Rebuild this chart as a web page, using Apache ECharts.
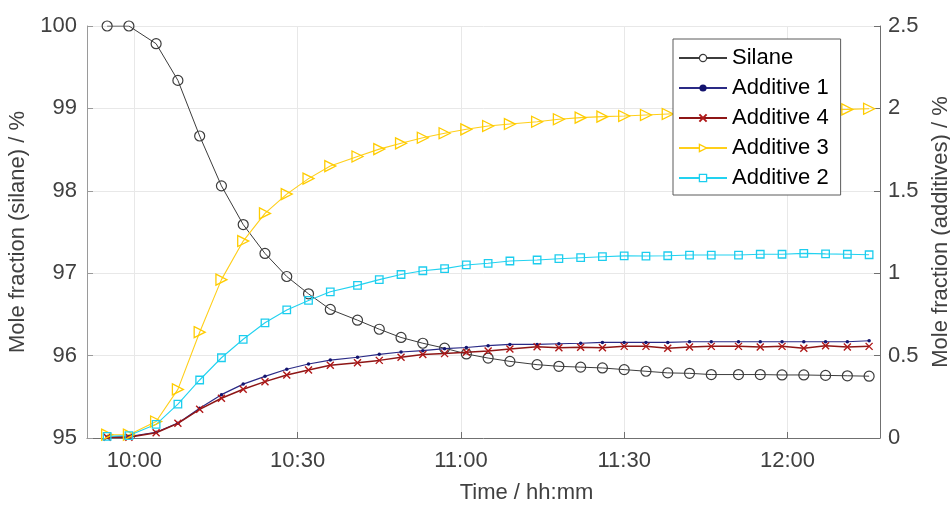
<!DOCTYPE html>
<html>
<head>
<meta charset="utf-8">
<script src="https://cdn.jsdelivr.net/npm/echarts@6/dist/echarts.min.js"></script>
<style>
html,body{margin:0;padding:0;background:#fff;}
#chart{width:950px;height:505px;}
</style>
</head>
<body>
<div id="chart"></div>
<script>
// minutes relative to 10:00
var times = [-5,-1,4,8,12,16,20,24,28,32,36,41,45,49,53,57,61,65,69,74,78,82,86,90,94,98,102,106,111,115,119,123,127,131,135];
var xTickValues = [0,30,60,90,120];
var seriesNames = ['Silane','Additive 1','Additive 4','Additive 3','Additive 2'];

var silane = [100,100,99.785,99.34,98.665,98.06,97.59,97.24,96.96,96.75,96.56,96.43,96.32,96.22,96.15,96.09,96.02,95.97,95.93,95.89,95.87,95.86,95.85,95.83,95.81,95.79,95.785,95.77,95.77,95.77,95.765,95.765,95.76,95.755,95.75];
var additive1 = [0.006,0.008,0.035,0.09,0.18,0.263,0.327,0.374,0.417,0.449,0.473,0.49,0.508,0.522,0.53,0.542,0.549,0.56,0.568,0.568,0.572,0.575,0.58,0.58,0.58,0.58,0.584,0.584,0.584,0.584,0.584,0.584,0.584,0.584,0.59];
var additive4 = [0.004,0.005,0.032,0.089,0.174,0.241,0.296,0.342,0.382,0.413,0.441,0.457,0.471,0.49,0.506,0.512,0.521,0.528,0.54,0.554,0.548,0.55,0.548,0.556,0.556,0.544,0.552,0.556,0.556,0.552,0.556,0.544,0.56,0.552,0.556];
var additive3 = [0.02,0.02,0.10,0.295,0.642,0.961,1.195,1.363,1.48,1.574,1.65,1.708,1.753,1.788,1.822,1.849,1.873,1.893,1.905,1.919,1.934,1.944,1.95,1.954,1.96,1.966,1.97,1.975,1.979,1.983,1.986,1.989,1.992,1.994,1.998];
var additive2 = [0.01,0.015,0.083,0.206,0.352,0.487,0.599,0.699,0.777,0.835,0.887,0.926,0.961,0.992,1.015,1.028,1.05,1.06,1.074,1.08,1.088,1.094,1.1,1.105,1.104,1.106,1.11,1.11,1.11,1.115,1.115,1.12,1.117,1.115,1.112];

function pairs(vals){ return times.map(function(t,i){ return [t, vals[i]]; }); }
function hhmm(v){
  var m = Math.round(600 + v);
  var h = Math.floor(m/60), mm = m % 60;
  return h + ':' + (mm < 10 ? '0' + mm : mm);
}

var FONT = 'Arial, "Liberation Sans", sans-serif';
var chart = echarts.init(document.getElementById('chart'), null, {renderer:'canvas'});

var option = {
  backgroundColor: '#ffffff',
  animation: false,
  grid: {left: 87, right: 70, top: 26, bottom: 67, containLabel: false, outerBoundsMode: 'none'},
  legend: {
    orient: 'vertical',
    left: 673, top: 39,
    backgroundColor: '#ffffff',
    borderColor: '#5a5a5a', borderWidth: 1,
    padding: [8, 12, 6, 5],
    itemWidth: 48, itemHeight: 9, itemGap: 8,
    textStyle: {fontFamily: FONT, fontSize: 22, lineHeight: 22, color: '#000'},
    data: [
      {name: seriesNames[0], itemStyle: {color: '#ffffff', borderColor: '#3c3c3c', borderWidth: 1.2}},
      {name: seriesNames[1]},
      {name: seriesNames[2]},
      {name: seriesNames[3], itemStyle: {color: '#ffffff', borderColor: '#ffcc00', borderWidth: 1.3}},
      {name: seriesNames[4], itemStyle: {color: '#ffffff', borderColor: '#1ccdee', borderWidth: 1.3}}
    ]
  },
  xAxis: {
    type: 'value',
    min: -8.7, max: 137,
    name: 'Time / hh:mm',
    nameLocation: 'middle',
    nameGap: 44,
    nameTextStyle: {fontFamily: FONT, fontSize: 22, color: '#404040', padding: [0,0,0,86]},
    axisLine: {show: true, onZero: false, lineStyle: {color: '#707070', width: 1}},
    axisTick: {show: true, inside: true, length: 6, customValues: xTickValues, lineStyle: {color: '#707070'}},
    axisLabel: {customValues: xTickValues, formatter: hhmm, fontFamily: FONT, fontSize: 22, color: '#404040', margin: 12},
    splitLine: {show: true, lineStyle: {color: '#e8e8e8', width: 1}}
  },
  yAxis: [{
    type: 'value',
    min: 95, max: 100, interval: 1,
    position: 'left',
    name: 'Mole fraction (silane) / %',
    nameLocation: 'middle', nameRotate: 90, nameGap: 48,
    nameTextStyle: {fontFamily: FONT, fontSize: 22, color: '#404040'},
    axisLine: {show: true, onZero: false, lineStyle: {color: '#9a9a9a', width: 1}},
    axisTick: {show: true, inside: true, length: 6, lineStyle: {color: '#9a9a9a'}},
    axisLabel: {fontFamily: FONT, fontSize: 22, color: '#404040', margin: 10},
    splitLine: {show: true, lineStyle: {color: '#e8e8e8', width: 1}}
  }, {
    type: 'value',
    min: 0, max: 2.5, interval: 0.5,
    position: 'right',
    name: 'Mole fraction (additives) / %',
    nameLocation: 'middle', nameRotate: 90, nameGap: 46,
    nameTextStyle: {fontFamily: FONT, fontSize: 22, color: '#404040'},
    axisLine: {show: true, onZero: false, lineStyle: {color: '#707070', width: 1}},
    axisTick: {show: true, inside: true, length: 6, lineStyle: {color: '#707070'}},
    axisLabel: {fontFamily: FONT, fontSize: 22, color: '#404040', margin: 8},
    splitLine: {show: false}
  }],
  series: [{
    name: seriesNames[0], type: 'line', yAxisIndex: 0,
    data: pairs(silane),
    symbol: 'circle', symbolSize: 10, showAllSymbol: true,
    lineStyle: {color: '#3c3c3c', width: 1},
    itemStyle: {color: 'rgba(255,255,255,0)', borderColor: '#3c3c3c', borderWidth: 1.2},
    z: 2
  }, {
    name: seriesNames[1], type: 'line', yAxisIndex: 1,
    data: pairs(additive1),
    symbol: 'circle', symbolSize: 3.5, showAllSymbol: true,
    lineStyle: {color: '#2a2a86', width: 1.2},
    itemStyle: {color: '#14146e', borderWidth: 0},
    z: 3
  }, {
    name: seriesNames[2], type: 'line', yAxisIndex: 1,
    data: pairs(additive4),
    symbol: 'path://M0,0L10,10M10,0L0,10', symbolSize: 7, showAllSymbol: true,
    lineStyle: {color: '#8e1616', width: 1.5},
    itemStyle: {color: 'rgba(0,0,0,0)', borderColor: '#b01818', borderWidth: 1.4},
    z: 3
  }, {
    name: seriesNames[3], type: 'line', yAxisIndex: 1,
    data: pairs(additive3),
    symbol: 'path://M0,0L10,5L0,10Z', symbolSize: 11, showAllSymbol: true,
    lineStyle: {color: '#ffcf1a', width: 1.1},
    itemStyle: {color: 'rgba(255,255,255,0)', borderColor: '#ffcc00', borderWidth: 1.3},
    z: 3
  }, {
    name: seriesNames[4], type: 'line', yAxisIndex: 1,
    data: pairs(additive2),
    symbol: 'rect', symbolSize: 7.5, showAllSymbol: true,
    lineStyle: {color: '#22d2f0', width: 1.1},
    itemStyle: {color: 'rgba(255,255,255,0)', borderColor: '#1ccdee', borderWidth: 1.3},
    z: 3
  }]
};
chart.setOption(option);
</script>
</body>
</html>
